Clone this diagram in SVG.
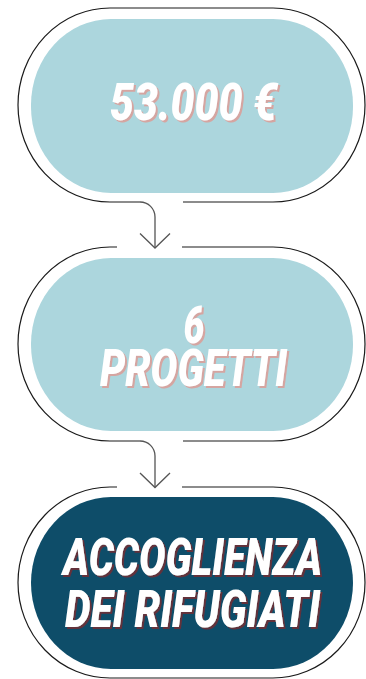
<svg xmlns="http://www.w3.org/2000/svg" width="366" height="679" viewBox="0 0 366 679">
  <style>
    .outline { fill: none; stroke: #1a1a1a; stroke-width: 1.2; }
    .light { fill: #acd6dd; }
    .dark { fill: #0e4d69; }
    .label { font-family: Roboto, "Liberation Sans", sans-serif; font-weight: 900; font-style: italic; font-size: 52px; fill: #ffffff; text-anchor: middle; }
    .conn { fill: none; stroke: #555555; stroke-width: 1.3; }
  </style>
  <defs>
    <filter id="shadowLight" x="-10%" y="-20%" width="120%" height="140%">
      <feOffset in="SourceAlpha" dx="2.2" dy="1.6" result="off"/>
      <feFlood flood-color="#d5a5a1"/>
      <feComposite operator="in" in2="off" result="sh"/>
      <feMerge><feMergeNode in="sh"/><feMergeNode in="SourceGraphic"/></feMerge>
    </filter>
    <filter id="shadowDark" x="-10%" y="-20%" width="120%" height="140%">
      <feOffset in="SourceAlpha" dx="2.2" dy="1.6" result="off"/>
      <feFlood flood-color="#64303b"/>
      <feComposite operator="in" in2="off" result="sh"/>
      <feMerge><feMergeNode in="sh"/><feMergeNode in="SourceGraphic"/></feMerge>
    </filter>
    <marker id="arrow" markerUnits="userSpaceOnUse" viewBox="-16 -16 17 32" markerWidth="17" markerHeight="32" refX="0" refY="0" orient="auto">
      <path d="M-14.5,-15 L0,0 L-14.5,15" fill="none" stroke="#555555" stroke-width="1.3"/>
    </marker>
  </defs>

  <g id="node1">
    <path class="outline" d="M183,202 H273 A92,97 0 0 0 365,105 A92,97 0 0 0 273,8 H110 A92,97 0 0 0 18,105 A92,97 0 0 0 110,202 H140"/>
    <rect class="light" x="31" y="19" width="322" height="174" rx="80" ry="86"/>
    <g filter="url(#shadowLight)">
      <text class="label" transform="scale(0.72 1)" x="268.75" y="120" textLength="232" lengthAdjust="spacingAndGlyphs">53.000 €</text>
    </g>
  </g>

  <g id="node2">
    <path class="outline" d="M183,441 H273 A92,97 0 0 0 365,344 A92,97 0 0 0 273,247 H182 M117,247 H110 A92,97 0 0 0 18,344 A92,97 0 0 0 110,441 H140"/>
    <rect class="light" x="31" y="258" width="322" height="173" rx="80" ry="86"/>
    <g filter="url(#shadowLight)">
      <text class="label" transform="scale(0.72 1)"><tspan x="269.4" y="343">6</tspan><tspan x="268.75" y="386" textLength="259.7" lengthAdjust="spacingAndGlyphs">PROGETTI</tspan></text>
    </g>
  </g>

  <g id="node3">
    <path class="outline" d="M182,487 H273 A92,95.5 0 0 1 365,582.5 A92,95.5 0 0 1 273,678 H110 A92,95.5 0 0 1 18,582.5 A92,95.5 0 0 1 110,487 H117"/>
    <rect class="dark" x="31" y="497" width="322" height="172" rx="80" ry="86"/>
    <g filter="url(#shadowDark)">
      <text class="label" transform="scale(0.72 1)"><tspan x="267.4" y="575" textLength="359.7" lengthAdjust="spacingAndGlyphs">ACCOGLIENZA</tspan><tspan x="267.4" y="627" textLength="354.2" lengthAdjust="spacingAndGlyphs">DEI RIFUGIATI</tspan></text>
    </g>
  </g>

  <g id="connectors">
    <path class="conn" d="M140,202 A15,15 0 0 1 155,217 V248" marker-end="url(#arrow)"/>
    <path class="conn" d="M140,441 A15,15 0 0 1 155,456 V487.5" marker-end="url(#arrow)"/>
  </g>
</svg>
